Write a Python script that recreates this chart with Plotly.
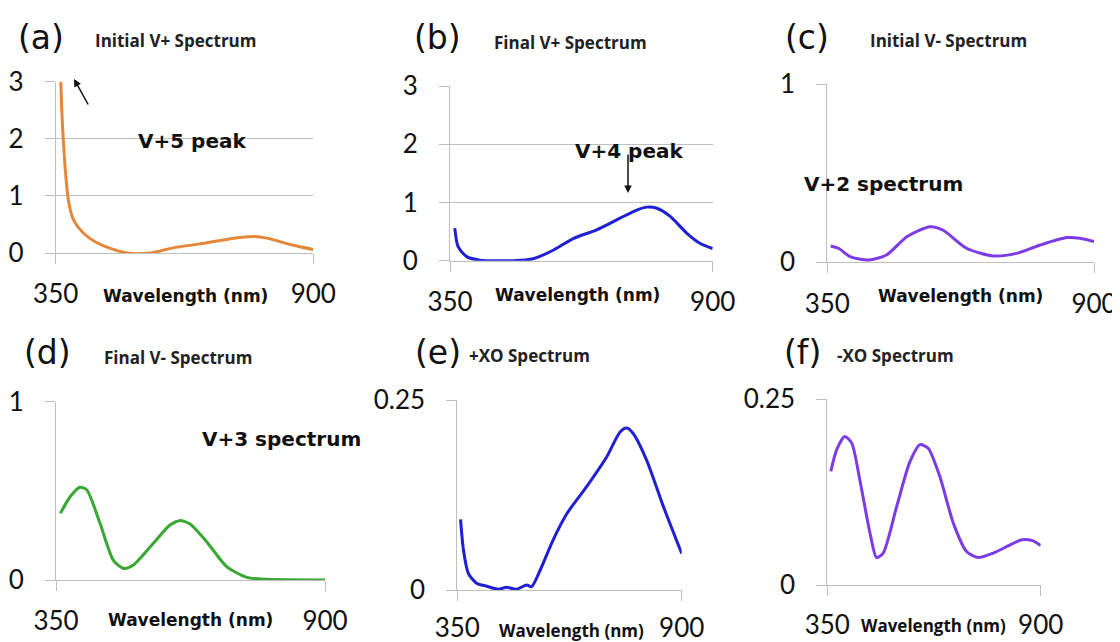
import plotly.graph_objects as go

# ---------------- data ----------------
wl_a = [361, 363, 370, 377, 388, 409, 445, 502, 552, 601, 658, 730, 772, 801, 851, 900]
ab_a = [3.0, 2.5, 1.51, 0.93, 0.58, 0.35, 0.15, 0.0, 0.0, 0.09, 0.16, 0.26, 0.29, 0.26, 0.15, 0.06]

wl_b = [360, 367, 385, 413, 483, 524, 566, 608, 657, 706, 741, 762, 783, 811, 846, 873, 900]
ab_b = [0.56, 0.24, 0.07, 0.01, 0.0, 0.034, 0.18, 0.38, 0.53, 0.73, 0.87, 0.92, 0.90, 0.76, 0.47, 0.30, 0.21]

wl_c = [357, 373, 397, 435, 472, 514, 562, 589, 637, 692, 740, 789, 844, 871, 900]
ab_c = [0.092, 0.079, 0.032, 0.013, 0.041, 0.144, 0.20, 0.18, 0.079, 0.036, 0.05, 0.097, 0.139, 0.135, 0.116]

wl_d = [359, 379, 399, 413, 440, 467, 488, 508, 549, 583, 603, 624, 658, 699, 740, 781, 900]
ab_d = [0.374, 0.467, 0.52, 0.505, 0.318, 0.112, 0.065, 0.084, 0.206, 0.308, 0.333, 0.314, 0.215, 0.075, 0.015, 0.004, 0.0]

wl_e = [358, 365, 377, 397, 422, 450, 471, 495, 520, 532, 553, 585, 618, 667, 716, 749, 765, 781, 814, 855, 900]
ab_e = [0.093, 0.053, 0.022, 0.009, 0.005, 0.001, 0.0035, 0.001, 0.0066, 0.0044, 0.026, 0.066, 0.100, 0.136, 0.175, 0.208, 0.213, 0.206, 0.171, 0.110, 0.048]

wl_f = [359, 374, 395, 413, 434, 460, 477, 494, 529, 563, 589, 610, 640, 675, 709, 739, 778, 821, 851, 877, 900]
ab_f = [0.153, 0.182, 0.200, 0.191, 0.141, 0.070, 0.037, 0.043, 0.106, 0.166, 0.189, 0.184, 0.146, 0.083, 0.045, 0.037, 0.043, 0.054, 0.061, 0.060, 0.053]

x_ticks = [350, 900]
x_ticktext = ["350", "900"]
y_ticks_big = [0, 1, 2, 3]
y_ticks_one = [0, 1]
y_ticks_small = [0, 0.25]
y_ticktext_small = ["0", "0.25"]

panel_letters = ["(a)", "(b)", "(c)", "(d)", "(e)", "(f)"]
panel_titles = ["Initial V+ Spectrum", "Final V+ Spectrum", "Initial V- Spectrum",
                "Final V- Spectrum", "+XO Spectrum", "-XO Spectrum"]
x_title = "Wavelength (nm)"

# ---------------- layout helpers ----------------
# the page body has an 8px margin, so the figure is drawn 8px in from the window corner
OFF = 8
W, H = 1120 - OFF, 642 - OFF


def px(x):
    return (x - OFF) / W


def py(y):
    return 1 - (y - OFF) / H


GRID = "#BFBFBF"
TICKFONT = dict(family="Lato, 'Open Sans', sans-serif", size=26, color="#111111")

panels = [
    dict(x=wl_a, y=ab_a, color="#E4873A", xd=(55.7, 313.3), yd=(253, 81.7), yr=[0, 3],
         yt=y_ticks_big, ytt=None, xs=8),
    dict(x=wl_b, y=ab_b, color="#1F1FD6", xd=(450, 712.7), yd=(260.7, 86), yr=[0, 3],
         yt=y_ticks_big, ytt=None, xs=8),
    dict(x=wl_c, y=ab_c, color="#7D3BE6", xd=(827.3, 1094), yd=(262.3, 84.3), yr=[0, 1],
         yt=y_ticks_one, ytt=None, xs=8),
    dict(x=wl_d, y=ab_d, color="#38A832", xd=(56, 325), yd=(580, 401.7), yr=[0, 1],
         yt=y_ticks_one, ytt=None, xs=8),
    dict(x=wl_e, y=ab_e, color="#1F1FD6", xd=(457.3, 681.7), yd=(590, 400), yr=[0, 0.25],
         yt=y_ticks_small, ytt=y_ticktext_small, xs=5),
    dict(x=wl_f, y=ab_f, color="#7D3BE6", xd=(827.3, 1040.7), yd=(585, 399.3), yr=[0, 0.25],
         yt=y_ticks_small, ytt=y_ticktext_small, xs=7),
]

fig = go.Figure()
layout = dict(
    width=W, height=H, margin=dict(l=0, r=0, t=0, b=0, autoexpand=False),
    paper_bgcolor="white", plot_bgcolor="white", showlegend=False,
)

for i, p in enumerate(panels):
    n = "" if i == 0 else str(i + 1)
    fig.add_trace(go.Scatter(
        x=p["x"], y=p["y"], mode="lines",
        line=dict(color=p["color"], width=3, shape="spline", smoothing=0.7),
        xaxis="x" + n, yaxis="y" + n, hoverinfo="skip",
    ))
    layout["xaxis" + n] = dict(
        domain=[px(p["xd"][0]), px(p["xd"][1])], anchor="y" + n, range=[350, 900],
        tickvals=x_ticks, ticktext=x_ticktext, showgrid=False, zeroline=False,
        showline=True, linecolor=GRID, linewidth=1, ticks="outside", ticklen=10,
        tickcolor=GRID, tickfont=TICKFONT, ticklabelstandoff=p["xs"], fixedrange=True,
        automargin=False,
    )
    ya = dict(
        domain=[py(p["yd"][0]), py(p["yd"][1])], anchor="x" + n, range=p["yr"],
        tickvals=p["yt"], showgrid=True, gridcolor=GRID, gridwidth=1, zeroline=False,
        showline=True, linecolor=GRID, linewidth=1, ticks="outside", ticklen=10,
        tickcolor=GRID, tickfont=TICKFONT, ticklabelstandoff=16, fixedrange=True,
        automargin=False,
    )
    if p["ytt"] is not None:
        ya["ticktext"] = p["ytt"]
    layout["yaxis" + n] = ya

fig.update_layout(**layout)

# ---------------- text annotations ----------------
ann = []
LETTER_FONT = dict(family="'DejaVu Sans', sans-serif", size=33, color="#111111")
TITLE_FONT = dict(family="'Open Sans', sans-serif", size=17, color="#222222")
XT_FONT = dict(family="'DejaVu Sans', sans-serif", size=17, color="#111111")
XT_FONT_SMALL = dict(family="'Open Sans', sans-serif", size=17, color="#111111")
NOTE_FONT = dict(family="'DejaVu Sans', sans-serif", size=20, color="#111111")

letter_pos = [(41, 37), (437, 37), (807, 37), (47, 353), (438, 353), (802, 353)]
title_pos = [(93, 40), (492, 43), (868, 40), (102, 357), (467, 355), (835, 355)]
for (lx, ly), (tx, ty), lt, tt in zip(letter_pos, title_pos, panel_letters, panel_titles):
    ann.append(dict(x=px(lx), y=py(ly), xref="paper", yref="paper", text=lt,
                    showarrow=False, font=LETTER_FONT, xanchor="center", yanchor="middle"))
    ann.append(dict(x=px(tx), y=py(ty), xref="paper", yref="paper", text="<b>" + tt + "</b>",
                    showarrow=False, font=TITLE_FONT, xanchor="left", yanchor="middle"))

xt_pos = [(185, 296), (577, 295), (960, 296), (190, 620), (571, 630), (933, 625)]
for k, (x0, y0) in enumerate(xt_pos):
    ann.append(dict(x=px(x0), y=py(y0), xref="paper", yref="paper", text="<b>" + x_title + "</b>",
                    showarrow=False, font=XT_FONT if k < 4 else XT_FONT_SMALL,
                    xanchor="center", yanchor="middle"))

# in-plot notes
ann.append(dict(x=px(136), y=py(127), xref="paper", yref="paper", text="<b>V+5 peak</b>",
                showarrow=False, font=NOTE_FONT))
ann.append(dict(x=px(629), y=py(137), xref="paper", yref="paper", text="<b>V+4 peak</b>",
                showarrow=False, font=NOTE_FONT))
ann.append(dict(x=px(965), y=py(170), xref="paper", yref="paper", text="<b>V+2 spectrum</b>",
                showarrow=False, font=NOTE_FONT))
ann.append(dict(x=px(200), y=py(453), xref="paper", yref="paper", text="<b>V+3 spectrum</b>",
                showarrow=False, font=NOTE_FONT))

# arrows (tail offset in pixels from the tip)
ann.append(dict(x=px(74), y=py(79), xref="paper", yref="paper", ax=15, ay=27,
                text="", showarrow=True, arrowhead=2,
                arrowsize=1, arrowwidth=1.5, arrowcolor="#111111"))
ann.append(dict(x=px(628), y=py(193), xref="paper", yref="paper", ax=0, ay=-40,
                text="", showarrow=True, arrowhead=2,
                arrowsize=1, arrowwidth=1.5, arrowcolor="#111111"))

fig.update_layout(annotations=ann)
fig.write_html("out.html")
